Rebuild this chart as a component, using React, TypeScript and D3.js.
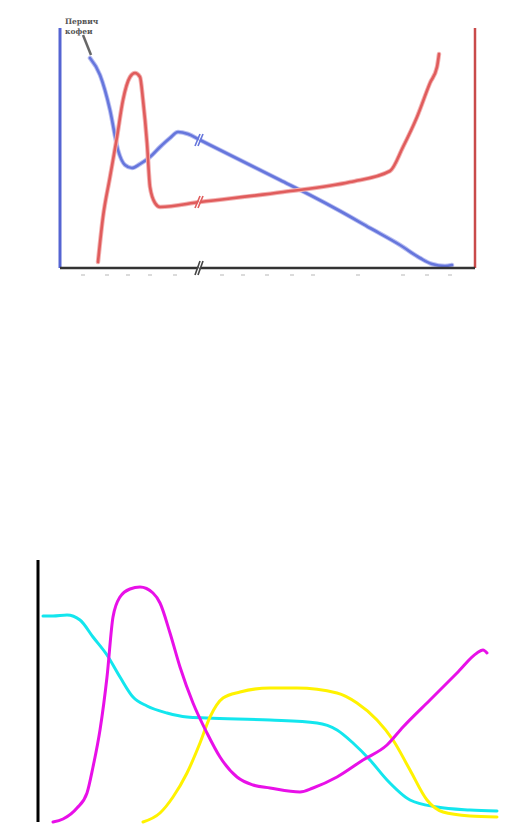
import React from "react";
import * as d3 from "d3";

// ---- Top chart data (arbitrary units) ----
const blueX = [3.0, 4.0, 5.0, 5.8, 6.5, 7.2, 8.0, 9.0, 10.0, 11.0, 11.8, 12.8, 14.0, 16.0, 19.0, 22.0, 25.0, 28.0, 31.0, 34.0, 36.0, 37.2, 38.5, 39.2];
const blueY = [21.0, 19.3, 15.8, 11.8, 10.3, 10.0, 10.4, 11.1, 12.1, 13.0, 13.6, 13.4, 12.8, 11.8, 10.3, 8.8, 7.3, 5.7, 4.0, 2.3, 1.0, 0.4, 0.2, 0.3];
const redX = [3.8, 4.3, 5.0, 5.7, 6.3, 7.0, 7.5, 8.0, 8.3, 8.7, 9.0, 9.5, 10.0, 14.0, 22.3, 29.0, 33.0, 34.3, 35.7, 37.0, 37.7, 37.9];
const redY = [0.6, 5.1, 9.1, 13.1, 16.8, 19.1, 19.5, 19.1, 16.8, 12.5, 8.1, 6.5, 6.1, 6.6, 7.6, 8.6, 9.7, 12.1, 15.1, 18.5, 20.1, 21.4];
const topTicks = [2.3, 4.7, 6.8, 9.0, 11.5, 16.2, 18.3, 20.7, 23.2, 25.3, 29.8, 34.3, 36.7, 39.0];
const topBreakX = 14.0;
const labelLines = ["Первич", "кофеи"];

// ---- Bottom chart data ----
const cyanX = [0.5, 1.5, 2.9, 4.2, 5.5, 6.9, 8.2, 9.5, 10.9, 12.9, 14.9, 16.9, 23.2, 27.9, 29.9, 31.5, 33.2, 34.9, 37.2, 39.9, 43.2, 45.9];
const cyanY = [20.6, 20.6, 20.7, 20.2, 18.5, 16.7, 14.5, 12.5, 11.6, 10.9, 10.5, 10.4, 10.2, 9.9, 9.2, 7.9, 6.2, 4.2, 2.2, 1.5, 1.2, 1.1];
const magentaX = [1.5, 2.5, 3.9, 4.9, 5.5, 6.2, 6.9, 7.5, 8.2, 9.2, 10.2, 11.5, 12.2, 13.2, 14.2, 15.5, 16.9, 18.2, 19.9, 21.5, 23.2, 26.2, 27.5, 29.9, 32.5, 34.9, 36.5, 39.2, 41.9, 43.9, 44.5, 44.9];
const magentaY = [0.0, 0.3, 1.4, 2.9, 5.5, 9.2, 14.5, 20.5, 22.5, 23.3, 23.5, 22.9, 21.9, 18.9, 15.5, 11.9, 8.9, 6.5, 4.5, 3.7, 3.4, 3.0, 3.4, 4.5, 6.2, 7.7, 9.5, 12.2, 14.9, 16.9, 17.2, 16.9];
const yellowX = [10.5, 12.2, 13.5, 14.9, 16.2, 17.2, 18.5, 20.2, 23.2, 25.9, 29.9, 31.9, 33.9, 35.5, 37.2, 38.9, 40.5, 43.2, 45.9];
const yellowY = [0.0, 0.9, 2.5, 4.9, 7.9, 10.5, 12.4, 13.0, 13.4, 13.4, 12.9, 11.9, 10.2, 8.2, 5.2, 2.2, 1.0, 0.6, 0.5];

const zip = (xs: number[], ys: number[]) => xs.map((x, i) => [x, ys[i]] as [number, number]);

export default function App() {
  // top scales
  const tx = d3.scaleLinear().domain([0, 41.5]).range([60, 475]);
  const ty = d3.scaleLinear().domain([0, 24]).range([268, 28]);
  const topLine = d3.line<[number, number]>().x((d) => tx(d[0])).y((d) => ty(d[1])).curve(d3.curveMonotoneX);

  // bottom scales
  const bx = d3.scaleLinear().domain([0, 46]).range([38, 498]);
  const by = d3.scaleLinear().domain([0, 26.2]).range([822, 560]);
  const botLine = d3.line<[number, number]>().x((d) => bx(d[0])).y((d) => by(d[1])).curve(d3.curveMonotoneX);

  const blue = zip(blueX, blueY);
  const red = zip(redX, redY);

  const interpY = (xs: number[], ys: number[], x: number) => {
    for (let i = 0; i < xs.length - 1; i++) {
      if (x >= xs[i] && x <= xs[i + 1]) {
        const t = (x - xs[i]) / (xs[i + 1] - xs[i]);
        return ys[i] + t * (ys[i + 1] - ys[i]);
      }
    }
    return ys[ys.length - 1];
  };

  const breakMark = (cx: number, cy: number, color: string, h = 7) => (
    <g>
      <polygon
        points={`${cx - 4 + 2},${cy + h} ${cx + 1 + 2},${cy - h} ${cx + 4 - 2},${cy - h} ${cx - 1 - 2},${cy + h}`}
        fill="white"
      />
      <line x1={cx - 4} y1={cy + h} x2={cx + 1} y2={cy - h} stroke={color} strokeWidth={1.6} />
      <line x1={cx - 1} y1={cy + h} x2={cx + 4} y2={cy - h} stroke={color} strokeWidth={1.6} />
    </g>
  );

  const bBreakY = ty(interpY(blueX, blueY, topBreakX));
  const rBreakY = ty(interpY(redX, redY, topBreakX));

  return (
    <svg width={532} height={827} style={{ position: "absolute", left: 0, top: 0, background: "white" }}>
      <rect width={532} height={827} fill="white" />
      {/* top chart */}
      <line x1={tx(0)} y1={ty(24)} x2={tx(0)} y2={ty(0)} stroke="#5564d2" strokeWidth={3} />
      <line x1={tx(41.5)} y1={ty(24)} x2={tx(41.5)} y2={ty(0)} stroke="#c94a4a" strokeWidth={2.5} />
      {topTicks.map((t, i) => (
        <line key={i} x1={tx(t) - 2} y1={275} x2={tx(t) + 2} y2={275} stroke="#cfcfcf" strokeWidth={1.5} />
      ))}
      <path d={topLine(blue) || ""} fill="none" stroke="#b9bff2" strokeWidth={4.5} strokeLinecap="round" />
      <path d={topLine(blue) || ""} fill="none" stroke="#6676dc" strokeWidth={2.6} strokeLinecap="round" />
      <path d={topLine(red) || ""} fill="none" stroke="#f3b3b3" strokeWidth={4.5} strokeLinecap="round" />
      <path d={topLine(red) || ""} fill="none" stroke="#e05c5c" strokeWidth={2.6} strokeLinecap="round" />
      <line x1={tx(0)} y1={ty(0)} x2={tx(41.5)} y2={ty(0)} stroke="#333" strokeWidth={2.5} />
      {breakMark(tx(topBreakX) - 1, bBreakY, "#6676dc", 6)}
      {breakMark(tx(topBreakX) - 1, rBreakY, "#e05c5c", 6)}
      {breakMark(tx(topBreakX) - 1, ty(0), "#444", 7)}
      <line x1={83} y1={35} x2={91} y2={55} stroke="#666" strokeWidth={2.5} />
      {labelLines.map((s, i) => (
        <text key={i} x={65} y={24 + i * 10} fontSize={7.5} fontFamily="DejaVu Serif" fontWeight="bold" fill="#555">
          {s}
        </text>
      ))}

      {/* bottom chart */}
      <line x1={38} y1={560} x2={38} y2={822} stroke="#000" strokeWidth={3} />
      <path d={botLine(zip(cyanX, cyanY)) || ""} fill="none" stroke="#13e6ee" strokeWidth={3} strokeLinecap="round" />
      <path d={botLine(zip(yellowX, yellowY)) || ""} fill="none" stroke="#fff200" strokeWidth={3} strokeLinecap="round" />
      <path d={botLine(zip(magentaX, magentaY)) || ""} fill="none" stroke="#e810e8" strokeWidth={3} strokeLinecap="round" />
    </svg>
  );
}
